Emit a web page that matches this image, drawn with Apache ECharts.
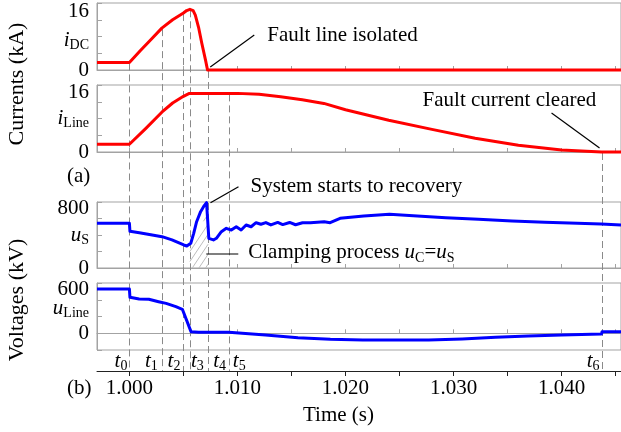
<!DOCTYPE html>
<html>
<head>
<meta charset="utf-8">
<script src="https://cdn.jsdelivr.net/npm/echarts@6/dist/echarts.min.js"></script>
<style>
html, body { margin: 0; padding: 0; background: #fff; }
#chart { width: 621px; height: 432px; }
</style>
</head>
<body>
<div id="chart"></div>
<script>
// ---- time axis ----
const timeMin = 0.997;
const timeMax = 1.0455;
const timeTicks = [1.000, 1.005, 1.010, 1.015, 1.020, 1.025, 1.030, 1.035, 1.040, 1.045];
const timeLabels = [1.000, 1.010, 1.020, 1.030, 1.040];

// event instants t0..t6
const eventTimes = [1.0000, 1.0030, 1.0050, 1.0056, 1.0073, 1.0092, 1.0437];
const eventNames = ['0', '1', '2', '3', '4', '5', '6'];

// DC current (kA)
const iDcTime  = [0.997, 1.0000, 1.0010, 1.0020, 1.0030, 1.0040, 1.0050, 1.0053, 1.0056, 1.0059, 1.0061, 1.0064, 1.0067, 1.00705, 1.00723, 1.0455];
const iDcValue = [1.8,   1.8,    4.6,    7.3,    10.0,   12.0,   13.6,   14.2,   14.5,   14.2,   13.1,   10.2,   6.4,    2.3,     0,       0];

// line current (kA)
const iLineTime  = [0.997, 1.0000, 1.0015, 1.0030, 1.0040, 1.0050, 1.0055, 1.0060, 1.0100, 1.0120, 1.0140, 1.0160, 1.0180, 1.0200, 1.0240, 1.0280, 1.0320, 1.0360, 1.0400, 1.0437, 1.0455];
const iLineValue = [1.85,  1.85,   5.6,    9.5,    11.7,   13.3,   13.95,  14.0,   14.0,   13.8,   13.2,   12.5,   11.6,   10.1,   7.6,    5.4,    3.3,    1.6,    0.45,   0,      0];

// station voltage (kV)
const uSTime  = [0.997, 1.0000, 1.00005, 1.00092, 1.00211, 1.00302, 1.00394, 1.00503, 1.00531, 1.00568, 1.00595, 1.00622, 1.00659, 1.00686, 1.00714, 1.00732, 1.00735, 1.00778, 1.00805, 1.00851, 1.00897, 1.00943, 1.00989, 1.01034, 1.01080, 1.01126, 1.01172, 1.01217, 1.01263, 1.01309, 1.01373, 1.01419, 1.01483, 1.01538, 1.01602, 1.01675, 1.01803, 1.01858, 1.01950, 1.02169, 1.02407, 1.02627, 1.02929, 1.03231, 1.03542, 1.03844, 1.04146, 1.04366, 1.0455];
const uSValue = [541,   541,    445,     428,     400,     380,     340,     279,     267,     300,     420,     561,     683,     743,     792,     804,     360,     340,     360,     440,     481,     460,     500,     460,     521,     500,     549,     530,     550,     522,     552,     526,     552,     524,     548,     549,     561,     549,     602,     630,     651,     634,     610,     590,     570,     554,     541,     533,     521];

// line voltage (kV)
const uLineTime  = [0.997, 1.0000, 1.00005, 1.0009, 1.0018, 1.0027, 1.0034, 1.0043, 1.0049, 1.0050, 1.0057, 1.0064, 1.0092, 1.0126, 1.0156, 1.0186, 1.0216, 1.0247, 1.0277, 1.0308, 1.0339, 1.0369, 1.0400, 1.0437, 1.04375, 1.0455];
const uLineValue = [527,   527,    429,     409,    405,    377,    357,    317,    286,    278,    19,     11,     11,     -21,    -53,    -73,    -81,    -81,    -81,    -69,    -49,    -33,    -21,    -9,     19,      19];

// clamping region (uC rising along the hatched edge)
const clampTime = [1.0056, 1.0073];
const clampTop  = [200, 700];

const FONT = "'Liberation Serif', 'DejaVu Serif', serif";
const GRID_LEFT = 97;
const GRID_WIDTH = 530;
const gray = '#a3a3a3';

const panels = [
  { top: 3,   height: 67, min: 0,    max: 16,  interval: 4,   labels: [0, 16],  pad: 16 },
  { top: 85,  height: 67, min: 0,    max: 16,  interval: 4,   labels: [0, 16],  pad: 14 },
  { top: 202, height: 66, min: 0,    max: 800, interval: 200, labels: [0, 800], pad: 13 },
  { top: 283, height: 67, min: -200, max: 600, interval: 200, labels: [0, 600], pad: 13 }
];

const zip = (xs, ys) => xs.map((x, i) => [x, ys[i]]);

const grids = panels.map(p => ({
  left: GRID_LEFT, width: GRID_WIDTH, top: p.top, height: p.height,
  show: true, borderColor: gray, borderWidth: 1, backgroundColor: 'transparent'
}));

const xAxes = panels.map((p, i) => ({
  gridIndex: i, type: 'value', min: timeMin, max: timeMax,
  axisLine: { show: true, lineStyle: { color: gray, width: 1 } },
  axisTick: { show: true, inside: true, length: 4, customValues: timeTicks, lineStyle: { color: gray } },
  axisLabel: { show: false },
  splitLine: { show: false }
}));
// shared time axis below the last panel
xAxes.push({
  gridIndex: 3, type: 'value', position: 'bottom', offset: 21,
  min: timeMin, max: timeMax,
  axisLine: { show: true, lineStyle: { color: '#222', width: 1 } },
  axisTick: { show: true, inside: false, length: 5, customValues: timeTicks, lineStyle: { color: '#222' } },
  axisLabel: {
    customValues: timeLabels, formatter: v => v.toFixed(3), margin: 7,
    fontFamily: FONT, fontSize: 21, color: '#000'
  },
  splitLine: { show: false }
});

const yAxes = panels.map((p, i) => ({
  gridIndex: i, type: 'value', min: p.min, max: p.max, interval: p.interval,
  axisLine: { show: true, lineStyle: { color: gray, width: 1 } },
  axisTick: { show: true, inside: true, length: 5, lineStyle: { color: gray } },
  splitLine: { show: false },
  axisLabel: {
    margin: 8, fontFamily: FONT, fontSize: 21, color: '#000',
    showMinLabel: true, showMaxLabel: true,
    formatter: v => {
      if (v === p.max) return '{top|' + v + '}';
      return p.labels.indexOf(v) >= 0 ? String(v) : '';
    },
    rich: { top: { fontFamily: FONT, fontSize: 21, color: '#000', padding: [p.pad, 0, 0, 0] } }
  }
}));

const lineSeries = (i, data, color) => ({
  type: 'line', xAxisIndex: i, yAxisIndex: i, data: data,
  showSymbol: false, symbol: 'none', silent: true, clip: false, z: 5,
  lineStyle: { color: color, width: 3, join: 'round' }
});

const chart = echarts.init(document.getElementById('chart'), null, { renderer: 'canvas' });
chart.setOption({
  animation: false,
  backgroundColor: '#fff',
  grid: grids,
  xAxis: xAxes,
  yAxis: yAxes,
  series: [
    lineSeries(0, zip(iDcTime, iDcValue), '#ff0000'),
    lineSeries(1, zip(iLineTime, iLineValue), '#ff0000'),
    lineSeries(2, zip(uSTime, uSValue), '#0000ff'),
    lineSeries(3, zip(uLineTime, uLineValue), '#0000ff')
  ]
});

// ---- overlay: event markers, hatching, annotations ----
const toPx = (i, t, v) => chart.convertToPixel({ xAxisIndex: i, yAxisIndex: i }, [t, v]);
const valueAt = (ts, vs, t) => {
  for (let k = 1; k < ts.length; k++) {
    if (t <= ts[k]) {
      const f = (t - ts[k - 1]) / (ts[k] - ts[k - 1]);
      return vs[k - 1] + f * (vs[k] - vs[k - 1]);
    }
  }
  return vs[vs.length - 1];
};

const g = [];
const axisBottomY = toPx(3, timeMin, panels[3].min)[1] + 21;

// dashed event lines, starting at the current trace they mark
eventTimes.forEach((t, k) => {
  const onLine = k >= 5;
  const v = onLine ? valueAt(iLineTime, iLineValue, t) : valueAt(iDcTime, iDcValue, t);
  const p = toPx(onLine ? 1 : 0, t, v);
  const x = Math.round(p[0]) + 0.5;
  g.push({
    type: 'line', z: 1, silent: true,
    shape: { x1: x, y1: p[1] + 1, x2: x, y2: axisBottomY },
    style: { stroke: '#8a8a8a', lineWidth: 1, lineDash: [7, 4] }
  });
});

// event labels t0..t6 between the last panel and the time axis
const eventSide = ['L', 'L', 'L', 'R', 'R', 'R', 'L'];
const eventGap  = [2, 4, 3, 1, 5, 4, 2];
const labelY = toPx(3, timeMin, panels[3].min)[1] + 11;
eventTimes.forEach((t, k) => {
  const x = toPx(3, t, 0)[0];
  const left = eventSide[k] === 'R';
  g.push({
    type: 'text', z: 10, silent: true,
    x: left ? x + eventGap[k] : x - eventGap[k], y: labelY,
    style: {
      text: '{t|t}{s|' + eventNames[k] + '}',
      align: left ? 'left' : 'right', verticalAlign: 'middle',
      rich: {
        t: { fontFamily: FONT, fontSize: 21, fontStyle: 'italic', fill: '#000' },
        s: { fontFamily: FONT, fontSize: 14, fill: '#000', padding: [10, 0, 0, 0] }
      }
    }
  });
});

// hatched clamping region on the station-voltage panel
(() => {
  const a = toPx(2, clampTime[0], 0), b = toPx(2, clampTime[0], clampTop[0]);
  const c = toPx(2, clampTime[1], clampTop[1]);
  const xL = a[0], xR = c[0], yB = a[1];
  const top = x => b[1] + (c[1] - b[1]) * (x - xL) / (xR - xL);
  const slope = 1.5, step = 10;
  for (let c0 = top(xL) - 60; c0 < yB + slope * (xR - xL) + step; c0 += step) {
    let first = null, last = null;
    for (let x = xL; x <= xR + 1e-6; x += 0.25) {
      const y = c0 - slope * (x - xL);
      if (y >= top(x) && y <= yB) { if (!first) first = [x, y]; last = [x, y]; }
    }
    if (first && last && (last[0] - first[0]) > 0.5) {
      g.push({
        type: 'line', z: 2, silent: true,
        shape: { x1: first[0], y1: first[1], x2: last[0], y2: last[1] },
        style: { stroke: '#bdbdbd', lineWidth: 1 }
      });
    }
  }
})();

const annText = (x, y, text, rich) => ({
  type: 'text', z: 10, silent: true, x: x, y: y,
  style: {
    text: text, align: 'left', verticalAlign: 'middle',
    fontFamily: FONT, fontSize: 21, fill: '#000', rich: rich || undefined
  }
});
const leader = (x1, y1, x2, y2) => ({
  type: 'line', z: 10, silent: true,
  shape: { x1: x1, y1: y1, x2: x2, y2: y2 },
  style: { stroke: '#000', lineWidth: 1.2 }
});

// fault line isolated
(() => {
  const p = toPx(0, eventTimes[4], 0);
  g.push(leader(p[0] + 2, p[1] - 3, p[0] + 46, p[1] - 35));
  g.push(annText(p[0] + 59, p[1] - 35, 'Fault line isolated'));
})();
// fault current cleared
(() => {
  const p = toPx(1, eventTimes[6], 0);
  g.push(leader(p[0] - 2, p[1] - 4, p[0] - 50, p[1] - 39));
  g.push(annText(p[0] - 179, p[1] - 52, 'Fault current cleared'));
})();
// recovery
(() => {
  const p = toPx(2, 1.00732, 804);
  g.push(leader(p[0] + 2, p[1] + 1, p[0] + 30, p[1] - 15));
  g.push(annText(p[0] + 42, p[1] - 15, 'System starts to recovery'));
})();
// clamping
(() => {
  const p = toPx(2, eventTimes[4], 170);
  g.push(leader(p[0] - 2, p[1], p[0] + 30, p[1]));
  g.push(annText(p[0] + 40, p[1] - 1, '{n|Clamping process }{i|u}{s|C}{n|=}{i|u}{s|S}', {
    n: { fontFamily: FONT, fontSize: 21, fill: '#000' },
    i: { fontFamily: FONT, fontSize: 21, fontStyle: 'italic', fill: '#000' },
    s: { fontFamily: FONT, fontSize: 14, fill: '#000', padding: [10, 0, 0, 0] }
  }));
})();

// trace names next to the value axes
const traceNames = [
  { panel: 0, v: 7,   main: 'i', sub: 'DC' },
  { panel: 1, v: 8,   main: 'i', sub: 'Line' },
  { panel: 2, v: 400, main: 'u', sub: 'S' },
  { panel: 3, v: 300, main: 'u', sub: 'Line' }
];
traceNames.forEach(n => {
  const p = toPx(n.panel, timeMin, n.v);
  g.push({
    type: 'text', z: 10, silent: true, x: p[0] - 8, y: p[1],
    style: {
      text: '{i|' + n.main + '}{s|' + n.sub + '}', align: 'right', verticalAlign: 'middle',
      rich: {
        i: { fontFamily: FONT, fontSize: 21, fontStyle: 'italic', fill: '#000' },
        s: { fontFamily: FONT, fontSize: 14, fill: '#000', padding: [10, 0, 0, 0] }
      }
    }
  });
});

// group titles and sub-figure tags
g.push({ type: 'text', z: 10, silent: true, x: 17, y: 84, rotation: Math.PI / 2,
  style: { text: 'Currents (kA)', align: 'center', verticalAlign: 'middle', fontFamily: FONT, fontSize: 22, fill: '#000' } });
g.push({ type: 'text', z: 10, silent: true, x: 17, y: 300, rotation: Math.PI / 2,
  style: { text: 'Voltages (kV)', align: 'center', verticalAlign: 'middle', fontFamily: FONT, fontSize: 22, fill: '#000' } });
g.push({ type: 'text', z: 10, silent: true, x: 67, y: 176,
  style: { text: '(a)', align: 'left', verticalAlign: 'middle', fontFamily: FONT, fontSize: 21, fill: '#000' } });
g.push({ type: 'text', z: 10, silent: true, x: 67, y: 388,
  style: { text: '(b)', align: 'left', verticalAlign: 'middle', fontFamily: FONT, fontSize: 21, fill: '#000' } });
g.push({ type: 'text', z: 10, silent: true, x: 303, y: 415,
  style: { text: 'Time (s)', align: 'left', verticalAlign: 'middle', fontFamily: FONT, fontSize: 21, fill: '#000' } });

chart.setOption({ graphic: g });
</script>
</body>
</html>
